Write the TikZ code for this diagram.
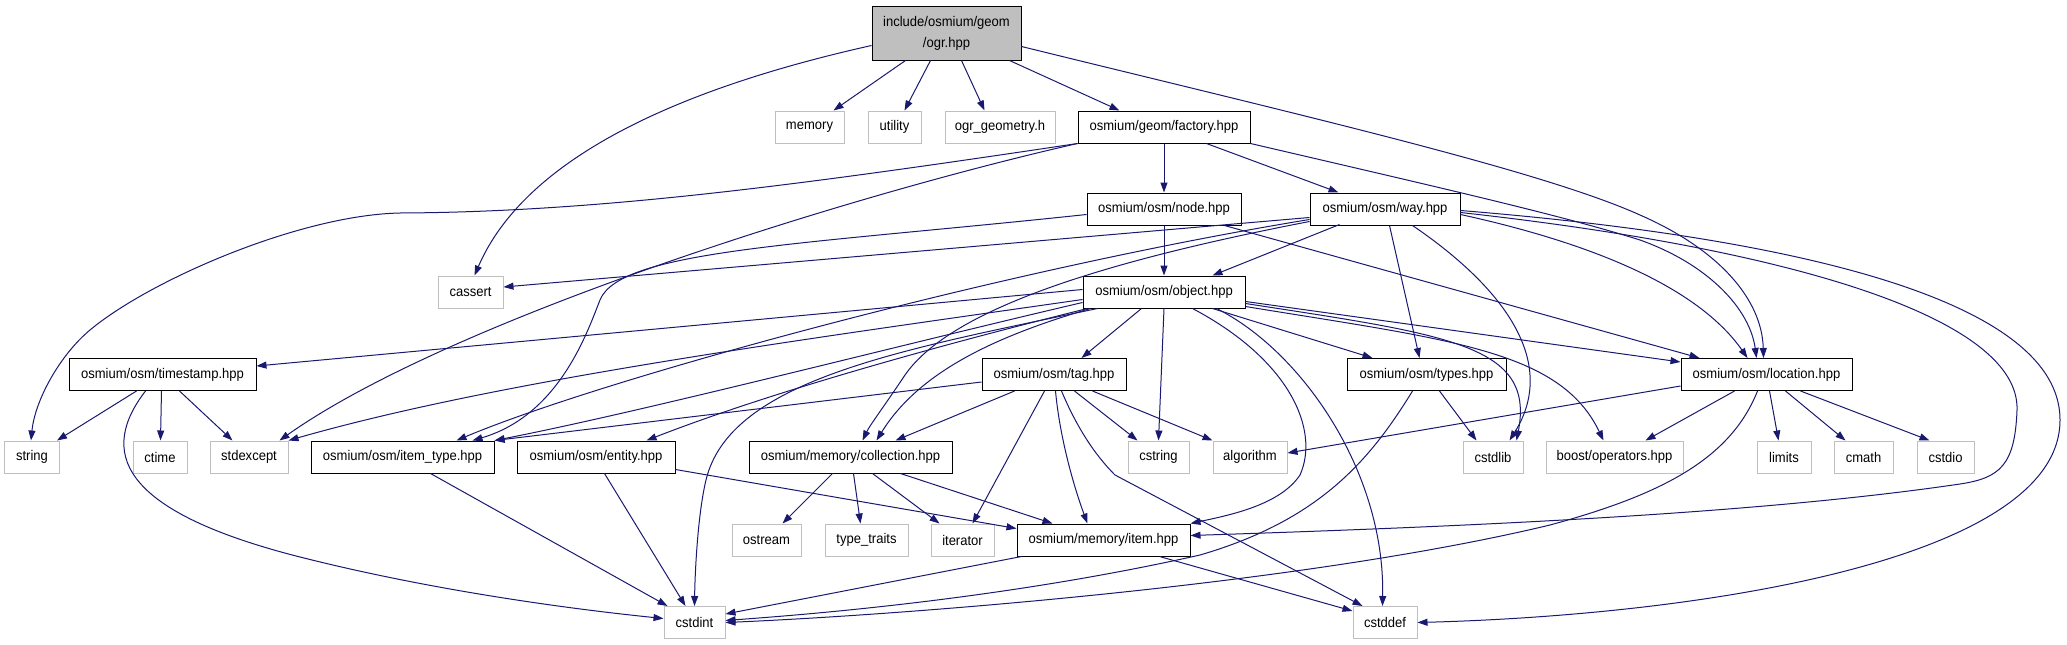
\documentclass[tikz,border=0pt]{standalone}
\usepackage{fontspec}
\usetikzlibrary{arrows.meta,calc}
\newfontfamily\dfont{Liberation Sans}[FakeStretch=0.93]
\definecolor{edgeblue}{RGB}{25,25,112}
\definecolor{extgray}{RGB}{191,191,191}
\definecolor{rootfill}{RGB}{191,191,191}
\tikzset{
  box/.style={draw=black, line width=1pt, minimum height=32pt, inner sep=0pt, font={\dfont\fontsize{14}{21}\selectfont}},
  ext/.style={draw=extgray, line width=1pt, minimum height=32pt, inner sep=0pt, font={\dfont\fontsize{14}{21}\selectfont}},
  edge/.style={draw=edgeblue, line width=1pt, -{Triangle[length=10pt,width=7pt]}},
}
\begin{document}
\begin{tikzpicture}[x=1pt,y=-1pt]
\useasboundingbox (0,0) rectangle (2067,645);
% nodes
\node[box, fill=rootfill, minimum width=149pt, minimum height=54pt, align=center] (ogr) at (946.5,33) {include/osmium/geom\\/ogr.hpp};
\node[ext, minimum width=69pt] (memory) at (809.5,127) {memory};
\node[ext, minimum width=53pt] (utility) at (894.5,127) {utility};
\node[ext, minimum width=110pt] (ogrgeom) at (1000,127) {ogr\_geometry.h};
\node[box, minimum width=172pt] (factory) at (1164,127) {osmium/geom/factory.hpp};
\node[box, minimum width=154pt] (node) at (1164,209) {osmium/osm/node.hpp};
\node[box, minimum width=150pt] (way) at (1385,209) {osmium/osm/way.hpp};
\node[ext, minimum width=65pt] (cassert) at (470.5,292) {cassert};
\node[box, minimum width=162pt] (object) at (1164,292) {osmium/osm/object.hpp};
\node[box, minimum width=187pt] (timestamp) at (162.5,374.5) {osmium/osm/timestamp.hpp};
\node[box, minimum width=144pt] (tag) at (1054,374.5) {osmium/osm/tag.hpp};
\node[box, minimum width=159pt] (types) at (1426.5,374.5) {osmium/osm/types.hpp};
\node[box, minimum width=171pt] (location) at (1766.5,374.5) {osmium/osm/location.hpp};
\node[ext, minimum width=55pt] (string) at (32,457) {string};
\node[ext, minimum width=54pt] (ctime) at (160,457) {ctime};
\node[ext, minimum width=78pt] (stdexcept) at (249,457) {stdexcept};
\node[box, minimum width=183pt] (itemtype) at (402.5,457) {osmium/osm/item\_type.hpp};
\node[box, minimum width=158pt] (entity) at (596,457) {osmium/osm/entity.hpp};
\node[box, minimum width=203pt] (collection) at (850.5,457) {osmium/memory/collection.hpp};
\node[ext, minimum width=61pt] (cstring) at (1158.5,457) {cstring};
\node[ext, minimum width=74pt] (algorithm) at (1250,457) {algorithm};
\node[ext, minimum width=60pt] (cstdlib) at (1493,457) {cstdlib};
\node[ext, minimum width=137pt] (boost) at (1614.5,457) {boost/operators.hpp};
\node[ext, minimum width=54pt] (limits) at (1784,457) {limits};
\node[ext, minimum width=59pt] (cmath) at (1863.5,457) {cmath};
\node[ext, minimum width=57pt] (cstdio) at (1945.5,457) {cstdio};
\node[ext, minimum width=69pt] (ostream) at (766.5,540) {ostream};
\node[ext, minimum width=83pt] (typetraits) at (866.5,540) {type\_traits};
\node[ext, minimum width=63pt] (iterator) at (962.5,540) {iterator};
\node[box, minimum width=173pt] (item) at (1103.5,540) {osmium/memory/item.hpp};
\node[ext, minimum width=61pt] (cstdint) at (694.5,622.5) {cstdint};
\node[ext, minimum width=64pt] (cstddef) at (1385,622.5) {cstddef};

% ogr edges
\draw[edge] ($(ogr.north west)+(0,40)$) .. controls (650,95) and (520,170) .. ($(cassert.north west)+(37,0)$);
\draw[edge] ($(ogr.south west)+(34,0)$) -- ($(memory.north west)+(59,0)$);
\draw[edge] ($(ogr.south west)+(59,0)$) -- ($(utility.north west)+(37,0)$);
\draw[edge] ($(ogr.south west)+(90,0)$) -- ($(ogrgeom.north west)+(40,0)$);
\draw[edge] ($(ogr.south west)+(138,0)$) -- ($(factory.north west)+(42,0)$);
\draw[edge] ($(ogr.north east)+(0,41)$) .. controls (1300,115) and (1540,170) .. (1640,215) .. controls (1720,250) and (1762,300) .. ($(location.north west)+(83,0)$);

% factory edges
\draw[edge] (factory.south west) .. controls (800,185) and (600,212) .. (400,213) .. controls (300,215) and (150,280) .. (90,330) .. controls (60,355) and (35,400) .. ($(string.north west)+(27,0)$);
\draw[edge] (factory.south west) .. controls (850,195) and (450,320) .. ($(stdexcept.north west)+(70,0)$);
\draw[edge] (factory.south) -- (node.north);
\draw[edge] ($(factory.south west)+(129,0)$) -- ($(way.north west)+(29,0)$);
\draw[edge] (factory.south east) .. controls (1450,190) and (1560,215) .. (1640,240) .. controls (1710,265) and (1750,310) .. ($(location.north west)+(76,0)$);

% node edges
\draw[edge] (node.south) -- (object.north);
\draw[edge] ($(node.north west)+(0,22)$) .. controls (800,245) and (620,250) .. (600,300) .. controls (588,330) and (560,415) .. ($(itemtype.north west)+(162,0)$);
\draw[edge] ($(node.south east)+(-17,0)$) -- ($(location.north west)+(19,0)$);

% way edges
\draw[edge] ($(way.north west)+(0,25)$) -- ($(cassert.east)+(0,-5)$);
\draw[edge] ($(way.north west)+(0,27)$) .. controls (1000,270) and (600,380) .. ($(itemtype.north west)+(146,0)$);
\draw[edge] ($(way.north west)+(0,29)$) .. controls (1100,262) and (950,310) .. (905,375) .. controls (885,405) and (870,425) .. ($(collection.north west)+(114,0)$);
\draw[edge] ($(way.north west)+(30,32)$) -- ($(object.north west)+(130,0)$);
\draw[edge] ($(way.south west)+(80,0)$) -- ($(types.north west)+(73,0)$);
\draw[edge] ($(way.south west)+(103,0)$) .. controls (1500,285) and (1560,360) .. ($(cstdlib.north west)+(47,0)$);
\draw[edge] ($(way.north east)+(0,22)$) .. controls (1600,245) and (1700,290) .. ($(location.north west)+(67,0)$);
\draw[edge] ($(way.north east)+(0,20)$) .. controls (1800,250) and (2020,320) .. (2017,410) .. controls (2015,465) and (2000,478) .. (1960,484) .. controls (1750,515) and (1450,527) .. ($(item.north east)+(0,12)$);
\draw[edge] ($(way.north east)+(0,18)$) .. controls (1700,230) and (2060,280) .. (2060,420) .. controls (2060,560) and (1700,615) .. (cstddef.east);

% object edges
\draw[edge] ($(object.north west)+(0,14)$) -- ($(timestamp.north east)+(0,8)$);
\draw[edge] ($(object.north west)+(0,24)$) .. controls (800,340) and (500,380) .. (stdexcept.north east);
\draw[edge] ($(object.north west)+(0,27)$) .. controls (900,345) and (650,410) .. (itemtype.north east);
\draw[edge] ($(object.south west)+(5,0)$) .. controls (900,355) and (750,400) .. ($(entity.north west)+(130,0)$);
\draw[edge] ($(object.south west)+(8,0)$) .. controls (1000,335) and (920,370) .. ($(collection.north west)+(128,0)$);
\draw[edge] ($(object.south west)+(15,0)$) .. controls (900,350) and (730,380) .. (706,480) .. controls (698,513) and (695,570) .. (cstdint.north);
\draw[edge] ($(object.south west)+(59,0)$) -- ($(tag.north west)+(100,0)$);
\draw[edge] (object.south) -- (cstring.north);
\draw[edge] ($(object.south west)+(110,0)$) .. controls (1290,360) and (1320,430) .. (1300,475) .. controls (1280,505) and (1230,515) .. (item.north east);
\draw[edge] ($(object.south west)+(134,0)$) .. controls (1300,350) and (1385,470) .. ($(cstddef.north west)+(30,0)$);
\draw[edge] ($(object.south west)+(130,0)$) -- ($(types.north west)+(26,0)$);
\draw[edge] ($(object.north east)+(0,26)$) -- ($(location.north west)+(0,4)$);
\draw[edge] ($(object.north east)+(0,28)$) .. controls (1450,335) and (1535,345) .. ($(cstdlib.north west)+(54,0)$);
\draw[edge] ($(object.north east)+(0,31)$) .. controls (1450,340) and (1560,350) .. ($(boost.north west)+(58,0)$);

% tag edges
\draw[edge] ($(tag.north west)+(0,24)$) -- (itemtype.north east);
\draw[edge] ($(tag.south west)+(33,0)$) -- ($(collection.north west)+(147,0)$);
\draw[edge] ($(tag.south west)+(63,0)$) -- ($(iterator.north west)+(42,0)$);
\draw[edge] ($(tag.south west)+(74,0)$) .. controls (1060,440) and (1075,490) .. ($(item.north west)+(71,0)$);
\draw[edge] ($(tag.south west)+(80,0)$) .. controls (1080,435) and (1100,460) .. (1115,475) -- ($(cstddef.north west)+(10,0)$);
\draw[edge] ($(tag.south west)+(93,0)$) -- ($(cstring.north west)+(10,0)$);
\draw[edge] ($(tag.south west)+(111,0)$) -- (algorithm.north west);

% collection edges
\draw[edge] ($(collection.south west)+(84,0)$) -- ($(ostream.north west)+(51,0)$);
\draw[edge] ($(collection.south west)+(105,0)$) -- ($(typetraits.north west)+(36,0)$);
\draw[edge] ($(collection.south west)+(124,0)$) -- ($(iterator.north west)+(9,0)$);
\draw[edge] ($(collection.south west)+(152,0)$) -- ($(item.north west)+(36,0)$);

% entity, item_type edges
\draw[edge] ($(entity.south west)+(88,0)$) -- ($(cstdint.north west)+(22,0)$);
\draw[edge] ($(entity.north east)+(0,29)$) -- ($(item.north west)+(0,5)$);
\draw[edge] ($(itemtype.south west)+(120,0)$) -- ($(cstdint.north west)+(4,0)$);

% timestamp edges
\draw[edge] ($(timestamp.south west)+(68,0)$) -- ($(string.north east)+(-3,0)$);
\draw[edge] ($(timestamp.south west)+(93,0)$) -- ($(ctime.north west)+(28,0)$);
\draw[edge] ($(timestamp.south west)+(111,0)$) -- ($(stdexcept.north west)+(23,0)$);
\draw[edge] ($(timestamp.south west)+(77,0)$) .. controls (100,450) and (115,510) .. (300,557) .. controls (450,595) and (600,612) .. ($(cstdint.west)+(0,-4)$);

% types edges
\draw[edge] ($(types.south west)+(66,0)$) .. controls (1370,460) and (1320,520) .. (1200,555) .. controls (1000,600) and (800,615) .. ($(cstdint.east)+(0,-2)$);
\draw[edge] ($(types.south west)+(93,0)$) -- ($(cstdlib.north west)+(14,0)$);

% location edges
\draw[edge] ($(location.south west)+(0,-5)$) -- ($(algorithm.east)+(0,-4)$);
\draw[edge] ($(location.south west)+(54,0)$) -- ($(boost.north west)+(100,0)$);
\draw[edge] ($(location.south west)+(89,0)$) -- ($(limits.north west)+(22,0)$);
\draw[edge] ($(location.south west)+(105,0)$) -- ($(cmath.north west)+(12,0)$);
\draw[edge] ($(location.south west)+(120,0)$) -- ($(cstdio.north west)+(13,0)$);
\draw[edge] ($(location.south west)+(77,0)$) .. controls (1730,460) and (1660,495) .. (1550,525) .. controls (1300,585) and (900,615) .. (cstdint.east);

% item edges
\draw[edge] ($(item.south west)+(5,0)$) -- ($(cstdint.north east)+(0,8)$);
\draw[edge] ($(item.south west)+(143,0)$) -- ($(cstddef.north west)+(0,5)$);
\end{tikzpicture}
\end{document}
